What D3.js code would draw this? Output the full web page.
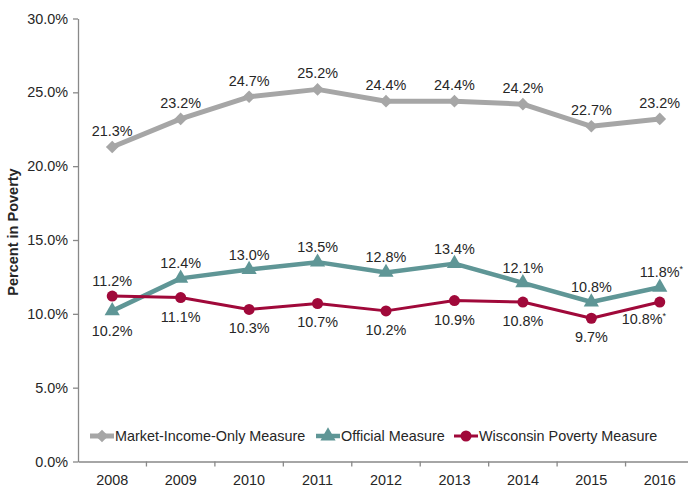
<!DOCTYPE html>
<html>
<head>
<meta charset="utf-8">
<script src="https://cdn.jsdelivr.net/npm/d3@7"></script>
<style>
  body { margin: 0; background: #fff; }
  svg { display: block; font-family: "Liberation Sans", Arial, sans-serif; }
</style>
</head>
<body>
<svg id="chart" width="688" height="487"></svg>
<script>
const years = ["2008","2009","2010","2011","2012","2013","2014","2015","2016"];
const marketIncome = [21.3, 23.2, 24.7, 25.2, 24.4, 24.4, 24.2, 22.7, 23.2];
const official     = [10.2, 12.4, 13.0, 13.5, 12.8, 13.4, 12.1, 10.8, 11.8];
const wpm          = [11.2, 11.1, 10.3, 10.7, 10.2, 10.9, 10.8, 9.7, 10.8];
const footnotes    = ["", "", "", "", "", "", "", "", "*"];
const yTicks = [0, 5, 10, 15, 20, 25, 30];
const seriesNames = ["Market-Income-Only Measure", "Official Measure", "Wisconsin Poverty Measure"];

(function () {
const svg = d3.select("#chart");
const mLeft = 78, mRight = 694, mTop = 18.5, mBottom = 461.5;
const fs = 14.4;

const x = d3.scaleBand().domain(years).range([mLeft, mRight]);
const y = d3.scaleLinear().domain([0, 30]).range([mBottom, mTop]);
const cx = d => x(d) + x.bandwidth() / 2;

const axisColor = "#898989";
const textColor = "#262626";

// Y axis
const yAxis = svg.append("g").attr("transform", `translate(${mLeft},0)`)
  .call(d3.axisLeft(y).tickValues(yTicks).tickSize(5).tickSizeOuter(0).tickFormat(d => d3.format(".1f")(d) + "%"));
yAxis.select(".domain").attr("stroke", axisColor).attr("stroke-width", 1.3);
yAxis.selectAll(".tick line").attr("stroke", axisColor).attr("stroke-width", 1.3);
yAxis.selectAll(".tick text").attr("font-size", fs).attr("fill", textColor).attr("x", -10)
  .attr("font-family", "Liberation Sans, Arial, sans-serif");

// X axis
const xAxis = svg.append("g").attr("transform", `translate(0,${mBottom})`)
  .call(d3.axisBottom(x).tickSize(0).tickSizeOuter(0));
xAxis.select(".domain").attr("stroke", axisColor).attr("stroke-width", 1.3);
xAxis.selectAll(".tick text").attr("font-size", fs).attr("fill", textColor).attr("dy", "1.45em")
  .attr("font-family", "Liberation Sans, Arial, sans-serif");
xAxis.selectAll(".bt").data(years).enter().append("line")
  .attr("x1", (d, i) => mLeft + (i + 1) * x.bandwidth()).attr("x2", (d, i) => mLeft + (i + 1) * x.bandwidth())
  .attr("y1", 0).attr("y2", 5).attr("stroke", axisColor).attr("stroke-width", 1.3);

// Y title
svg.append("text").attr("transform", `translate(18,${(mTop + mBottom) / 2 - 8}) rotate(-90)`)
  .attr("text-anchor", "middle").attr("font-size", 14.5).attr("font-weight", "bold").attr("fill", textColor)
  .text("Percent in Poverty");

const colors = ["#a6a6a6", "#5f9696", "#a0093a"];
const widths = [5, 4.5, 3];
const data = [marketIncome, official, wpm];

const line = d3.line().x((d, i) => cx(years[i])).y(d => y(d));

function marker(g, type, color) {
  if (type === 0) {
    g.append("path").attr("d", d3.symbol(d3.symbolSquare, 80)()).attr("transform", "rotate(45)").attr("fill", color);
  } else if (type === 1) {
    g.append("path").attr("d", d3.symbol(d3.symbolTriangle, 100)()).attr("fill", color);
  } else {
    g.append("circle").attr("r", 5.5).attr("fill", color);
  }
}

data.forEach((vals, s) => {
  svg.append("path").datum(vals).attr("d", line).attr("fill", "none")
    .attr("stroke", colors[s]).attr("stroke-width", widths[s]).attr("stroke-linejoin", "round");
  vals.forEach((v, i) => {
    const g = svg.append("g").attr("transform", `translate(${cx(years[i])},${y(v)})`);
    marker(g, s, colors[s]);
  });
});

function label(xp, yp, v, note, anchor) {
  const t = svg.append("text").attr("x", xp).attr("y", yp).attr("text-anchor", anchor || "middle")
    .attr("font-size", fs).attr("fill", textColor).text(d3.format(".1f")(v) + "%");
  if (note) t.append("tspan").attr("font-size", 9).attr("dy", -5).text(note);
}
const last = years.length - 1;
marketIncome.forEach((v, i) => label(cx(years[i]), y(v) - 11, v, ""));
official.forEach((v, i) => {
  const below = v < wpm[i];
  if (i === last) label(cx(years[i]) - 20, y(v) - 10, v, footnotes[i], "start");
  else label(cx(years[i]), below ? y(v) + 25 : y(v) - 10, v, footnotes[i]);
});
wpm.forEach((v, i) => {
  const above = v > official[i];
  if (i === last) label(cx(years[i]) - 38, y(v) + 22, v, footnotes[i], "start");
  else label(cx(years[i]), above ? y(v) - 10 : y(v) + 24, v, footnotes[i]);
});

// Legend
const legendX = [90, 316, 454];
const legendY = 436;
seriesNames.forEach((name, s) => {
  const g = svg.append("g").attr("transform", `translate(${legendX[s]},${legendY})`);
  g.append("line").attr("x1", 0).attr("x2", 24).attr("stroke", colors[s]).attr("stroke-width", widths[s]);
  const m = g.append("g").attr("transform", "translate(12,0)");
  marker(m, s, colors[s]);
  g.append("text").attr("x", 25).attr("y", 5).attr("font-size", fs).attr("fill", textColor).text(name);
});
})();
</script>
</body>
</html>
